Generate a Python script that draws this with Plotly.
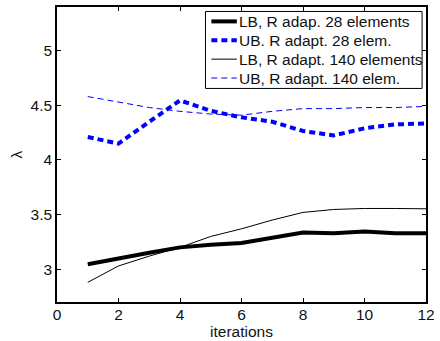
import plotly.graph_objects as go

iterations = [1, 2, 3, 4, 5, 6, 7, 8, 9, 10, 11, 12]
lb_28 = [3.045, 3.10, 3.15, 3.20, 3.225, 3.24, 3.29, 3.335, 3.33, 3.345, 3.33, 3.33]
ub_28 = [4.21, 4.15, 4.35, 4.545, 4.45, 4.39, 4.35, 4.265, 4.225, 4.29, 4.325, 4.335]
lb_140 = [2.88, 3.03, 3.12, 3.20, 3.30, 3.37, 3.45, 3.52, 3.547, 3.556, 3.556, 3.553]
ub_140 = [4.58, 4.53, 4.48, 4.445, 4.42, 4.41, 4.445, 4.47, 4.47, 4.48, 4.48, 4.49]

names = ["LB, R adap. 28 elements", "UB. R adapt. 28 elem.",
         "LB, R adapt. 140 elements", "UB, R adapt. 140 elem."]

FONT = "Liberation Sans, Arial, Helvetica, sans-serif"
TXT = "#111"
FS = 15.5

W, H = 440, 341
ML, MR, MT, MB = 56.5, 7, 5, 39
PW, PH = W - ML - MR, H - MT - MB


def px(xp):
    return (xp - ML) / PW


def py(yp):
    return 1 - (yp - MT) / PH


styles = [dict(color="black", width=4),
          dict(color="#0000ff", width=4, dash="6px,4px"),
          dict(color="black", width=1),
          dict(color="#0000ff", width=1, dash="6px,4px")]
series = [lb_28, ub_28, lb_140, ub_140]

fig = go.Figure()
for name, ys, st in zip(names, series, styles):
    fig.add_trace(go.Scatter(x=iterations, y=ys, mode="lines", name=name,
                             line=st, showlegend=False))

# legend box drawn manually (to match compact row spacing)
shapes = [dict(type="rect", xref="paper", yref="paper",
               x0=px(208), x1=px(429), y0=py(87), y1=py(9.5),
               line=dict(color="black", width=1), fillcolor="white", layer="above")]
annotations = []
rows = [19.5, 38.5, 57.5, 76.5]
for name, st, ry in zip(names, styles, rows):
    shapes.append(dict(type="line", xref="paper", yref="paper",
                       x0=px(214), x1=px(240), y0=py(ry), y1=py(ry),
                       line=st, layer="above"))
    annotations.append(dict(text=name, xref="paper", yref="paper",
                            x=px(240), y=py(ry), xanchor="left", yanchor="middle",
                            showarrow=False,
                            font=dict(family=FONT, size=FS, color=TXT)))

axis_common = dict(showline=True, linecolor="black", linewidth=1.5, mirror="ticks",
                   ticks="inside", ticklen=4, tickwidth=1, tickcolor="black",
                   showgrid=False, zeroline=False, ticklabeloverflow="allow",
                   tickfont=dict(family=FONT, size=FS, color=TXT))

fig.update_layout(
    width=W, height=H,
    margin=dict(l=ML, r=MR, t=MT, b=MB),
    paper_bgcolor="white", plot_bgcolor="white",
    font=dict(family=FONT, size=FS, color=TXT),
    showlegend=False,
    shapes=shapes, annotations=annotations,
    xaxis=dict(range=[0, 12], tickmode="array", tickvals=[0, 2, 4, 6, 8, 10, 12],
               ticklabelstandoff=-2,
               title=dict(text="iterations", standoff=0,
                          font=dict(family=FONT, size=FS, color=TXT)),
               **axis_common),
    yaxis=dict(range=[2.7, 5.4], tickmode="array", tickvals=[3, 3.5, 4, 4.5, 5],
               ticktext=["3", "3.5", "4", "4.5", "5"],
               title=dict(text="λ", standoff=4,
                          font=dict(family=FONT, size=FS, color=TXT)),
               **axis_common),
)

fig.write_html("out.html", config={"displayModeBar": False},
               post_script="document.body.style.margin='0';document.body.style.padding='0';")
